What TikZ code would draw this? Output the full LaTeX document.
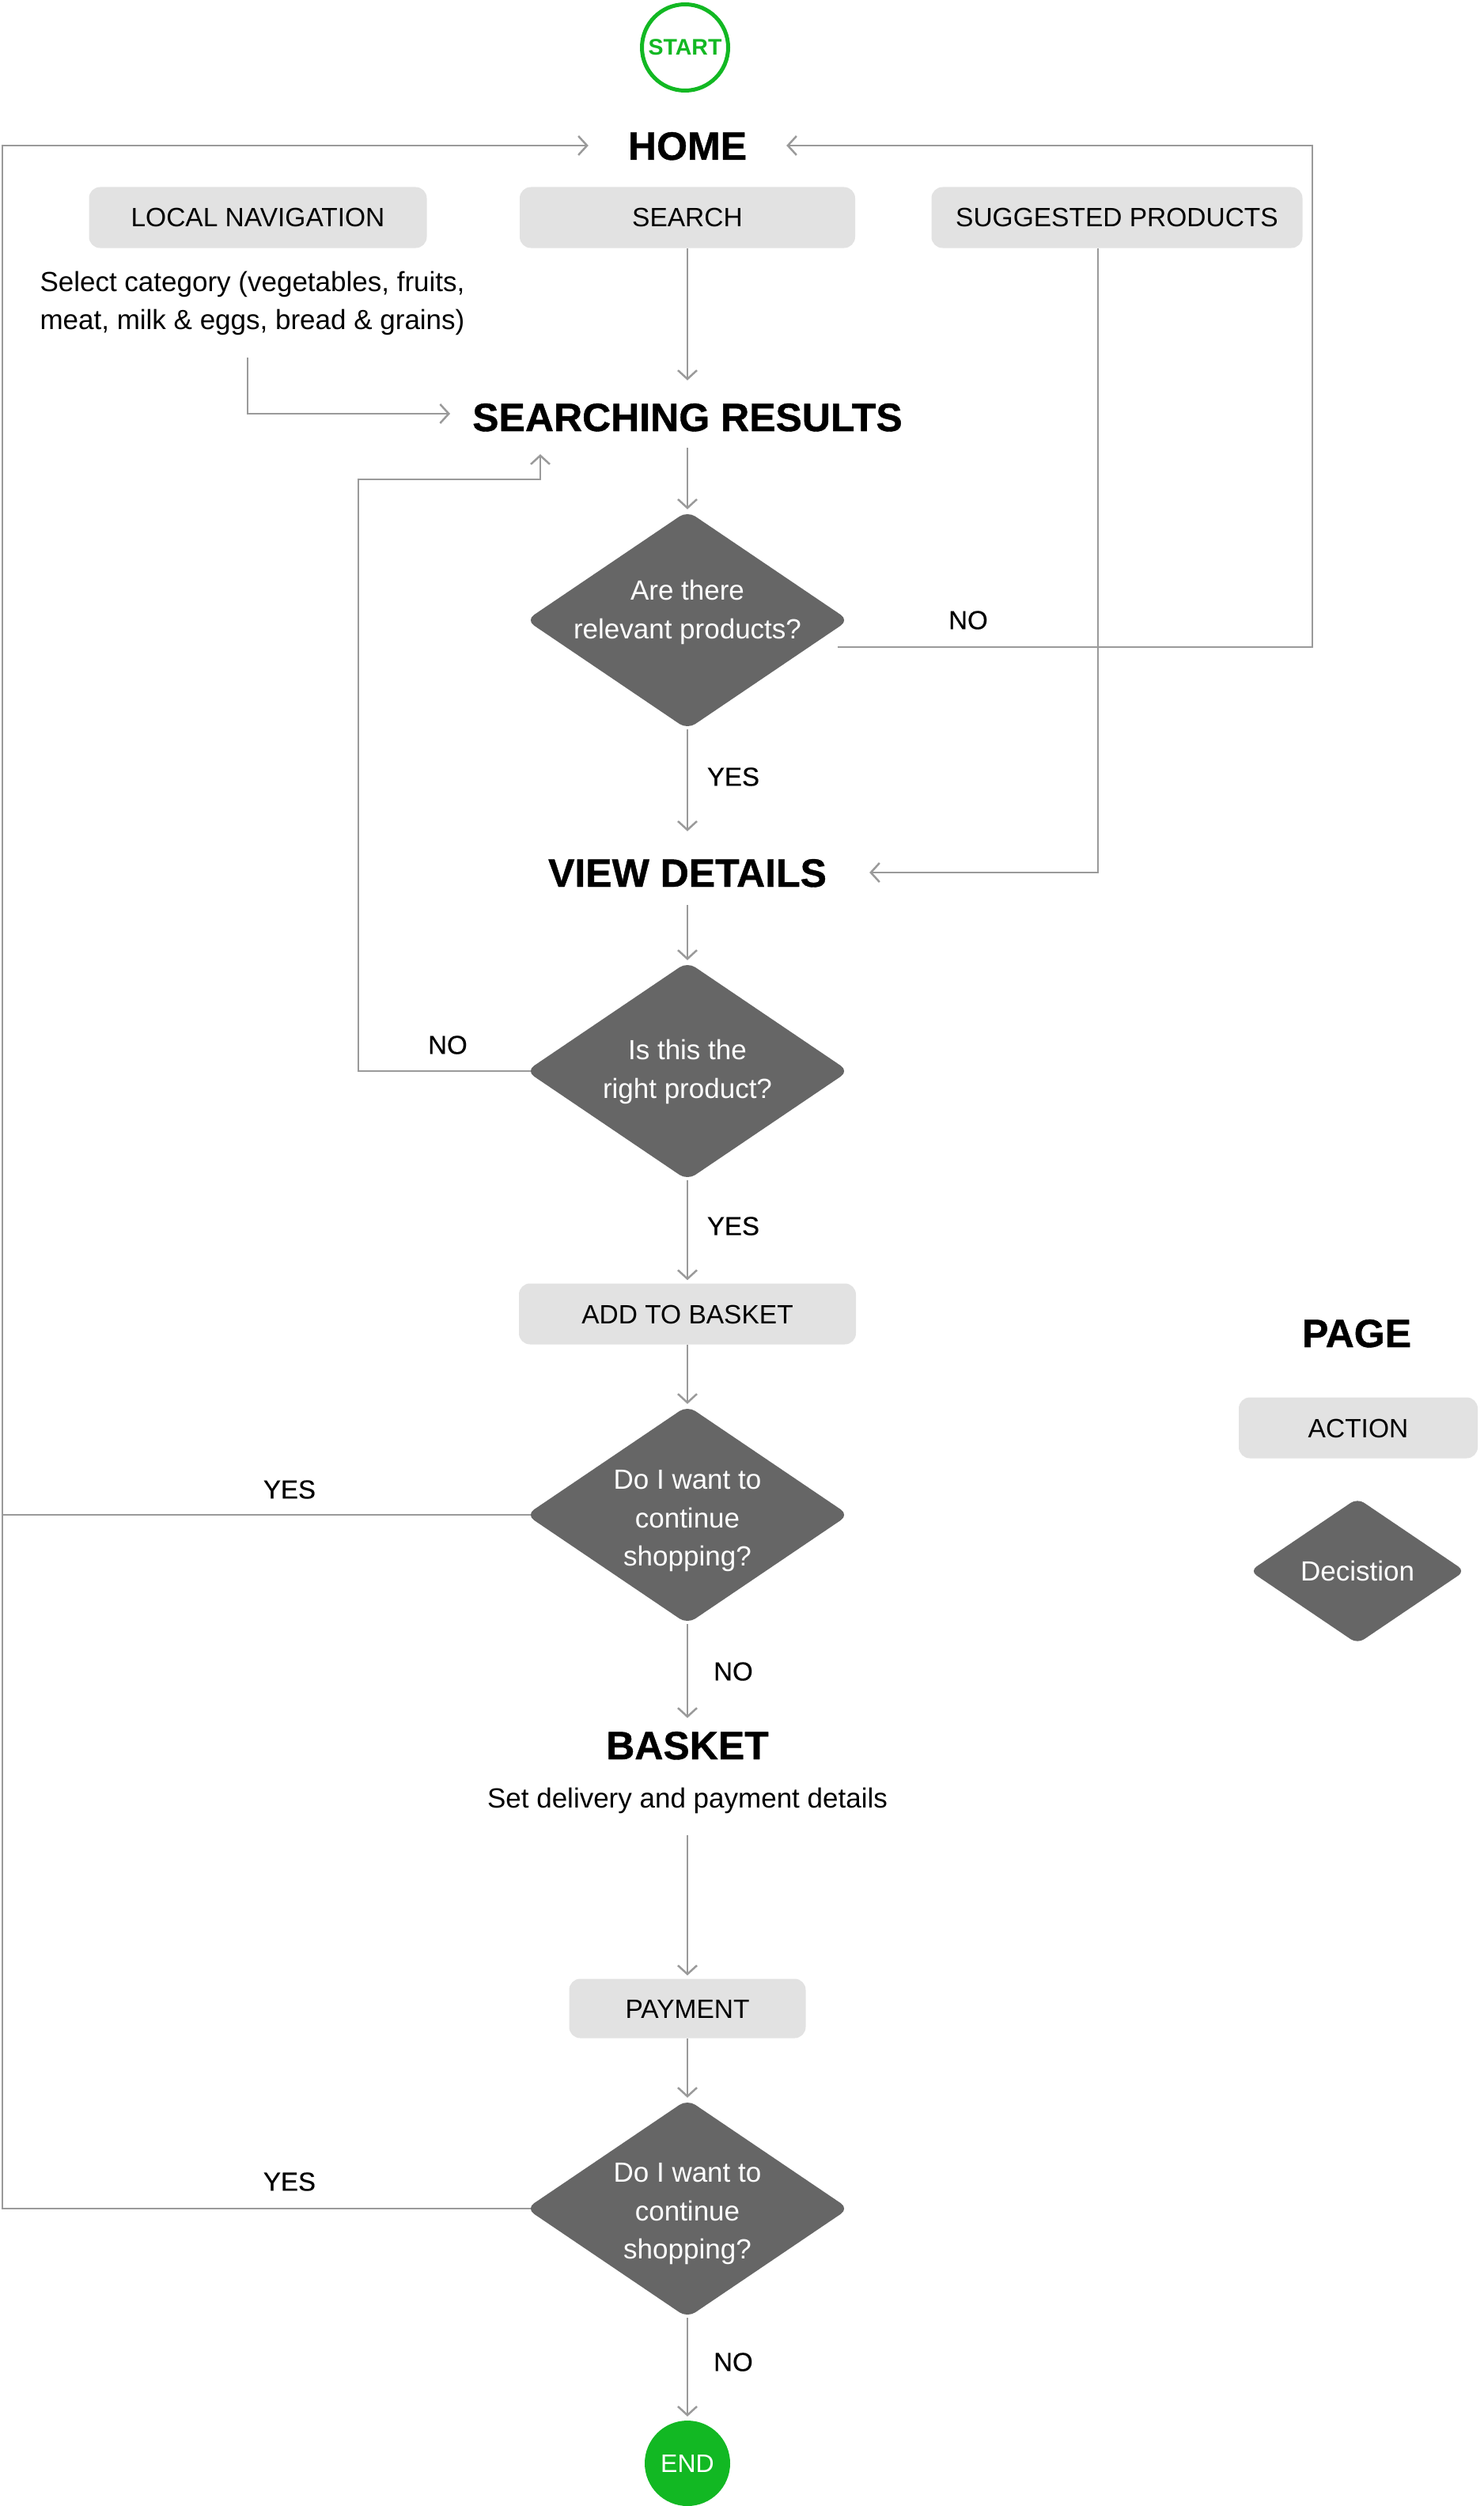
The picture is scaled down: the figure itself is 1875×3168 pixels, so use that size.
\documentclass[tikz,border=0pt]{standalone}
\usepackage{fontspec}
\setmainfont{Liberation Sans}
\newfontfamily\headfont{Liberation Sans}[BoldFeatures={FakeBold=0.8}]
\newfontfamily\medfont{Liberation Sans}[UprightFeatures={FakeBold=0.4}]
\usetikzlibrary{shapes.geometric,arrows.meta}
\definecolor{lgreen}{HTML}{12B823}
\definecolor{boxgray}{HTML}{E2E2E2}
\definecolor{dgray}{HTML}{666666}
\definecolor{linegray}{HTML}{9A9A9A}
\begin{document}
\begin{tikzpicture}[x=1pt,y=-1pt,
 conn/.style={draw=linegray,line width=2.5pt},
 arr/.style={conn,-{Straight Barb[length=11pt,width=24pt]}},
 heading/.style={font=\fontsize{50}{60}\selectfont\headfont\bfseries, inner sep=0pt, text height=36pt, text depth=0pt},
 action/.style={fill=boxgray, rounded corners=14pt, minimum height=77pt, inner sep=0pt, font=\fontsize{33.5}{40}\selectfont, text height=24pt, text depth=0pt},
 decision/.style={diamond, fill=dgray, inner sep=0pt, aspect=1.45, minimum width=408pt, minimum height=276pt, rounded corners=12pt},
 dtext/.style={text=white, align=center, inner sep=0pt, font=\fontsize{35}{48.5}\selectfont},
 lbl/.style={font=\fontsize{33}{40}\selectfont\medfont, inner sep=0pt},
 body/.style={font=\fontsize{35}{48}\selectfont, align=center, inner sep=0pt}]
\useasboundingbox (0,0) rectangle (1875,3168);

% nodes
\node[circle, draw=lgreen, line width=5pt, minimum size=109pt, inner sep=0pt, text=lgreen, font=\fontsize{28.5}{30}\selectfont\bfseries] (start) at (866,60) {START};
\node[heading, inner xsep=50pt] (home) at (869,184) {HOME};
\node[action, minimum width=427pt] (ln) at (326,275) {LOCAL NAVIGATION};
\node[action, minimum width=424pt] (search) at (869,275) {SEARCH};
\node[action, minimum width=469pt] (sp) at (1412,275) {SUGGESTED PRODUCTS};
\node[body] (selcat) at (319,383) {Select category (vegetables, fruits,\\meat, milk \& eggs, bread \& grains)};
\node[heading] (sr) at (869,527) {SEARCHING RESULTS};
\node[decision] (d1) at (869,784) {};
\node[dtext] (d1t) at (869,774) {Are there\\relevant products?};
\node[heading] (vd) at (869,1103) {VIEW DETAILS};
\node[decision] (d2) at (869,1354) {};
\node[dtext] (d2t) at (869,1355) {Is this the\\right product?};
\node[action, minimum width=426pt] (atb) at (869,1661) {ADD TO BASKET};
\node[decision] (d3) at (869,1915) {};
\node[dtext] (d3t) at (869,1923) {Do I want to\\continue\\shopping?};
\node[heading] (basket) at (869,2206) {BASKET};
\node[body, text height=25pt, text depth=0pt] (setdel) at (869,2273) {Set delivery and payment details};
\node[action, minimum width=299pt, minimum height=75pt] (pay) at (869,2539) {PAYMENT};
\node[decision] (d4) at (869,2792) {};
\node[dtext] (d4t) at (869,2799) {Do I want to\\continue\\shopping?};
\node[circle, fill=lgreen, minimum size=108pt, inner sep=0pt, text=white, font=\fontsize{32}{36}\selectfont] (end) at (869,3114) {END};

% legend
\node[heading] (page) at (1715,1685) {PAGE};
\node[action, minimum width=302pt] (action) at (1717,1805) {ACTION};
\node[decision, minimum width=272pt, minimum height=184pt, aspect=1.48, rounded corners=10pt] (dlegend) at (1716,1986) {};
\node[dtext] (dlegendt) at (1716,1986) {Decistion};

% labels
\node[lbl] (l1) at (1224,784) {NO};
\node[lbl] (l2) at (927,982) {YES};
\node[lbl] (l3) at (566,1321) {NO};
\node[lbl] (l4) at (927,1550) {YES};
\node[lbl] (l5) at (366,1883) {YES};
\node[lbl] (l6) at (927,2113) {NO};
\node[lbl] (l7) at (366,2758) {YES};
\node[lbl] (l8) at (927,2986) {NO};

% connectors
\coordinate (selstart) at (313,452);
\draw[arr] ([xshift=6pt]d4.west) -- (3,2792) -- (3,184) -- (home.west);
\draw[conn] ([xshift=6pt]d3.west) -- (3,1915);
\draw[arr] ([xshift=-14pt,yshift=-34pt]d1.east) -- (1659,818) -- (1659,184) -- (home.east);
\draw[arr] (search.south) -- ([yshift=28pt]sr.north);
\draw[arr] (selstart) |- ([xshift=-28pt,yshift=4pt]sr.west);
\draw[arr, shorten >=2pt] ([yshift=-21pt]sr.south) -- (d1.north);
\draw[arr] (d1.south) -- ([yshift=34pt]vd.north);
\draw[arr] ([xshift=-24pt]sp.south) |- ([xshift=54pt]vd.east);
\draw[arr, shorten >=2pt] ([yshift=-23pt]vd.south) -- (d2.north);
\draw[arr] ([xshift=6pt]d2.west) -- (453,1354) -- (453,606) -- ([xshift=-186pt]sr.south |- 0,606) -- ([xshift=-186pt,yshift=-29pt]sr.south);
\draw[arr, shorten >=4pt] (d2.south) -- (atb.north);
\draw[arr, shorten >=2pt] (atb.south) -- (d3.north);
\draw[arr] (d3.south) -- ([yshift=16pt]basket.north);
\draw[arr, shorten >=4pt] ([yshift=-34pt]setdel.south) -- (pay.north);
\draw[arr, shorten >=2pt] (pay.south) -- (d4.north);
\draw[arr, shorten >=5pt] (d4.south) -- (end.north);
\end{tikzpicture}
\end{document}
